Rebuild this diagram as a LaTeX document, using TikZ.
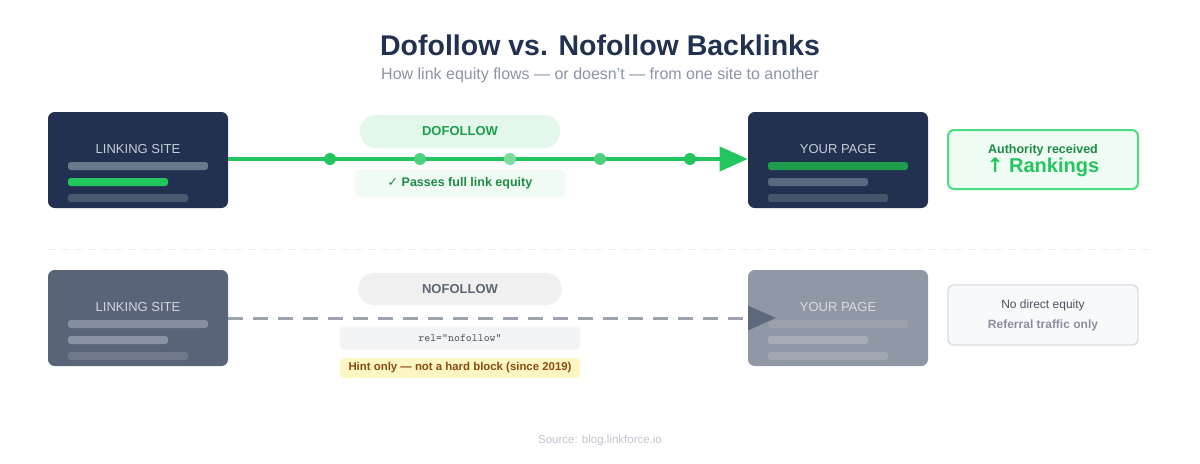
\documentclass[tikz,border=0pt]{standalone}
\usepackage{fontspec}
\setmainfont{Liberation Sans}
\newfontfamily\symfont{DejaVu Sans}
\usetikzlibrary{arrows.meta}
\newcommand\pxf[1]{\fontsize{\fpeval{#1*0.75}pt}{\fpeval{#1*0.9}pt}\selectfont}
\definecolor{navy}{HTML}{22314F}
\definecolor{titlec}{HTML}{22314F}
\definecolor{subc}{HTML}{8A94A6}
\definecolor{grn}{HTML}{22C55E}
\definecolor{grnd}{HTML}{1E9E4C}
\definecolor{grntxt}{HTML}{1E8A45}
\definecolor{pillg}{HTML}{E3F7EA}
\definecolor{passg}{HTML}{EFFBF3}
\definecolor{authf}{HTML}{EFFCF3}
\definecolor{authb}{HTML}{4ADE80}
\definecolor{sitetxt}{HTML}{C8CDD6}
\definecolor{bar1}{HTML}{6B778A}
\definecolor{bar3}{HTML}{4A5870}
\definecolor{ybar2}{HTML}{5A6780}
\definecolor{ybar3}{HTML}{45536B}
\definecolor{sep}{HTML}{ECEEF2}
\definecolor{gsite}{HTML}{5A6478}
\definecolor{gsitetxt}{HTML}{D0D4DC}
\definecolor{gbar1}{HTML}{858E9F}
\definecolor{gbar2}{HTML}{8A93A3}
\definecolor{gbar3}{HTML}{6F798B}
\definecolor{dashc}{HTML}{9CA3AF}
\definecolor{tipc}{HTML}{5D687D}
\definecolor{pillgray}{HTML}{F0F0F0}
\definecolor{pillgtxt}{HTML}{5F6673}
\definecolor{relf}{HTML}{F3F4F6}
\definecolor{reltxt}{HTML}{555A63}
\definecolor{hintf}{HTML}{FDF6C3}
\definecolor{hinttxt}{HTML}{8A4B0F}
\definecolor{ypg}{HTML}{9198A5}
\definecolor{ypgtxt}{HTML}{D8DBE1}
\definecolor{ypb1}{HTML}{9AA1AD}
\definecolor{ypb2}{HTML}{A6ADB8}
\definecolor{ypb3}{HTML}{A1A8B4}
\definecolor{noeqf}{HTML}{F8F9FB}
\definecolor{noeqb}{HTML}{D8DCE2}
\definecolor{noeqt}{HTML}{4B5260}
\definecolor{reft}{HTML}{8A909B}
\definecolor{srcc}{HTML}{C0C5CF}
\begin{document}
\begin{tikzpicture}[x=0.75pt,y=-0.75pt,
  sitebox/.style={rounded corners=5pt, minimum width=135pt, minimum height=72pt, inner sep=0pt},
  pill/.style={rounded corners=12pt, inner sep=0pt, font=\pxf{13}\bfseries},
  tag/.style={rounded corners=3pt, inner sep=0pt},
  sidebox/.style={rounded corners=4.5pt, minimum width=142.5pt, inner sep=0pt, align=center},
  bar/.style={rounded corners=2pt},
  dot/.style={circle, inner sep=0pt, minimum size=9pt}]
\useasboundingbox[fill=white] (0,0) rectangle (1200,464);

% title
\node[text=titlec, font=\pxf{28.5}\bfseries] (title) at (600,45) {Dofollow vs. Nofollow Backlinks};
\node[text=subc, font=\pxf{16}] (sub) at (600,75) {How link equity flows — or doesn't — from one site to another};

% ---------- dofollow row ----------
\node[sitebox, fill=navy] (ls1) at (138,160) {};
\node[text=sitetxt, font=\pxf{13}] (ls1t) at (138,149) {LINKING SITE};
\fill[bar, bar1] (68,162) rectangle (208,170);
\fill[bar, grn] (68,178) rectangle (168,186);
\fill[bar, bar3] (68,194) rectangle (188,202);

\node[sitebox, fill=navy] (yp1) at (838,160) {};
\node[text=sitetxt, font=\pxf{13}] (yp1t) at (838,149) {YOUR PAGE};
\fill[bar, grnd] (768,162) rectangle (908,170);
\fill[bar, ybar2] (768,178) rectangle (868,186);
\fill[bar, ybar3] (768,194) rectangle (888,202);

\node[pill, fill=pillg, text=grnd, minimum width=150pt, minimum height=24.75pt] (dof) at (460,131.5) {DOFOLLOW};
\node[tag, fill=passg, text=grntxt, minimum width=157.5pt, minimum height=20.25pt, font=\pxf{12.5}\bfseries] (pass) at (460,183.5) {{\symfont ✓} Passes full link equity};

\draw[grn, line width=3pt, -{Triangle[length=21pt,width=18pt]}] (ls1.east |- 0,159) -- (yp1.west |- 0,159);
\node[dot, fill=grn] (d1) at (330,159) {};
\node[dot, fill=grn!80!white] (d2) at (420,159) {};
\node[dot, fill=grn!60!white] (d3) at (510,159) {};
\node[dot, fill=grn!80!white] (d4) at (600,159) {};
\node[dot, fill=grn] (d5) at (690,159) {};

\node[sidebox, fill=authf, draw=authb, line width=1.5pt, minimum height=44.25pt] (auth) at (1043,159.5) {};
\node[text=grntxt, font=\pxf{12.5}\bfseries] (autht) at (1043,150) {Authority received};
\node[text=grn, font=\pxf{20}\bfseries] (rank) at (1043,167.5) {{\symfont\bfseries ↑} Rankings};

% separator
\coordinate (s1) at (48,249);
\coordinate (s2) at (1152,249);
\draw[sep, line width=0.75pt, dash pattern=on 6pt off 4pt] (s1) -- (s2);

% ---------- nofollow row ----------
\node[sitebox, fill=gsite] (ls2) at (138,318) {};
\node[text=gsitetxt, font=\pxf{13}] (ls2t) at (138,307) {LINKING SITE};
\fill[bar, gbar1] (68,320) rectangle (208,328);
\fill[bar, gbar2] (68,336) rectangle (168,344);
\fill[bar, gbar3] (68,352) rectangle (188,360);

\node[sitebox, fill=ypg] (yp2) at (838,318) {};
\node[text=ypgtxt, font=\pxf{13}] (yp2t) at (838,307) {YOUR PAGE};
\fill[bar, ypb1] (768,320) rectangle (908,328);
\fill[bar, ypb2] (768,336) rectangle (868,344);
\fill[bar, ypb3] (768,352) rectangle (888,360);

\node[pill, fill=pillgray, text=pillgtxt, minimum width=153pt, minimum height=24pt] (nof) at (460,289) {NOFOLLOW};
\node[tag, fill=relf, text=reltxt, minimum width=180pt, minimum height=17.25pt, font=\ttfamily\pxf{11.2}] (rel) at (460,338) {rel="nofollow"};
\node[tag, fill=hintf, text=hinttxt, minimum width=180pt, minimum height=15pt, font=\pxf{11.4}\bfseries] (hint) at (460,368) {Hint only — not a hard block (since 2019)};

\coordinate (tip2) at (776,318);
\draw[dashc, line width=2.25pt, dash pattern=on 11.25pt off 7.5pt, -{Triangle[length=21pt,width=18pt,color=tipc]}] (ls2.east) -- (tip2);

\node[sidebox, fill=noeqf, draw=noeqb, line width=1.1pt, minimum height=45pt] (noeq) at (1043,315) {};
\node[text=noeqt, font=\pxf{12}] (noeqt1) at (1043,305) {No direct equity};
\node[text=reft, font=\pxf{12}\bfseries] (noeqt2) at (1043,325) {Referral traffic only};

% source
\node[text=srcc, font=\pxf{11.5}] (src) at (600,441) {Source: blog.linkforce.io};
\end{tikzpicture}
\end{document}
